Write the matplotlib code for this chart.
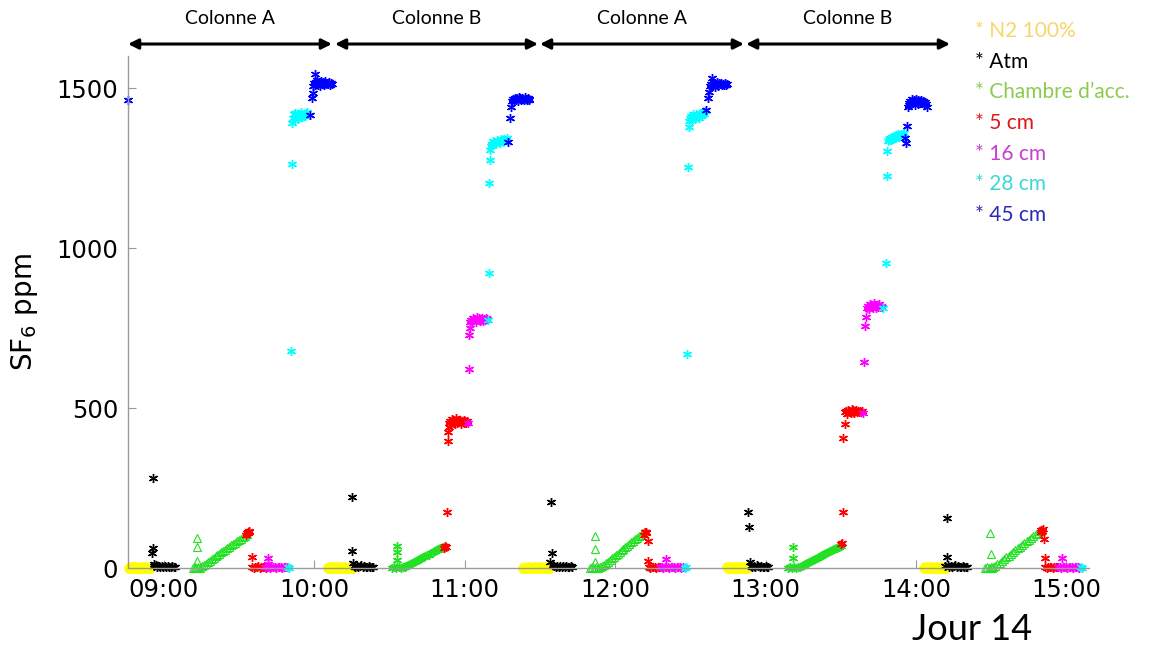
import matplotlib
matplotlib.use("Agg")
import matplotlib.pyplot as plt
from matplotlib.ticker import FixedLocator, FixedFormatter

# ---------------- data (time in decimal hours, SF6 in ppm) ----------------
n2_t = [8.765, 8.772, 8.780, 8.788, 8.795, 8.803, 8.810, 8.818, 8.825, 8.833, 8.840,
        8.848, 8.855, 8.863, 8.870, 8.878, 8.885, 8.893, 8.900, 8.906,
        10.088, 10.096, 10.105, 10.113, 10.122, 10.130, 10.139, 10.147, 10.156, 10.164,
        10.173, 10.181, 10.190, 10.198, 10.207, 10.215, 10.224, 10.232, 10.241, 10.248,
        11.390, 11.400, 11.410, 11.420, 11.430, 11.440, 11.450, 11.460, 11.470, 11.480,
        11.490, 11.500, 11.510, 11.520, 11.530, 11.539, 11.548, 11.556, 11.563,
        12.746, 12.753, 12.760, 12.768, 12.775, 12.783, 12.790, 12.798, 12.805, 12.813,
        12.820, 12.828, 12.835, 12.843, 12.850, 12.857, 12.863, 12.869, 12.875,
        14.050, 14.058, 14.066, 14.074, 14.082, 14.090, 14.098, 14.106, 14.114, 14.122,
        14.130, 14.138, 14.146, 14.154, 14.162, 14.170, 14.178, 14.185, 14.190]
n2_v = [1, 0, 2, 1, 0, 1, 2, 0, 1, 1, 0, 2, 1, 0, 1, 2, 0, 1, 1, 0,
        0, 1, 2, 1, 0, 2, 1, 0, 1, 2, 1, 0, 1, 2, 0, 1, 1, 0, 2, 1,
        1, 0, 1, 2, 0, 1, 1, 0, 2, 1, 0, 2, 1, 0, 1, 2, 0, 1, 1,
        2, 1, 0, 1, 2, 0, 1, 1, 0, 2, 1, 0, 2, 1, 0, 1, 1, 2, 0,
        1, 2, 0, 1, 1, 0, 2, 1, 0, 1, 2, 0, 1, 1, 0, 2, 1, 0, 1]

atm_t = [8.920, 8.927, 8.929, 8.931, 8.936, 8.945, 8.955, 8.965, 8.975, 8.985, 8.995,
         9.005, 9.015, 9.025, 9.035, 9.045, 9.055, 9.065, 9.073,
         10.250, 10.252, 10.257, 10.262, 10.272, 10.282, 10.292, 10.302, 10.312, 10.322,
         10.332, 10.342, 10.352, 10.362, 10.372, 10.382, 10.390,
         11.566, 11.573, 11.580, 11.585, 11.595, 11.605, 11.615, 11.625, 11.635, 11.645,
         11.655, 11.665, 11.675, 11.685, 11.695, 11.705, 11.713,
         12.883, 12.890, 12.896, 12.901, 12.910, 12.920, 12.930, 12.940, 12.950, 12.960,
         12.970, 12.980, 12.990, 13.000, 13.010, 13.016,
         14.193, 14.206, 14.207, 14.212, 14.222, 14.232, 14.242, 14.252, 14.262, 14.272,
         14.282, 14.292, 14.302, 14.312, 14.322, 14.332, 14.339]
atm_v = [47, 281, 62, 14, 5, 8, 3, 6, 4, 7, 2, 5, 3, 6, 4, 2, 5, 3, 4,
         222, 53, 16, 6, 4, 7, 3, 5, 8, 2, 6, 4, 3, 5, 2, 4, 3,
         19, 206, 47, 8, 5, 3, 6, 4, 7, 2, 5, 3, 6, 4, 2, 5, 3,
         175, 128, 19, 7, 4, 6, 3, 8, 5, 2, 6, 4, 3, 5, 2, 4,
         6, 156, 34, 9, 4, 7, 3, 5, 8, 2, 6, 4, 3, 5, 2, 4, 3]

# accumulation chamber, asterisks (Colonne B periods)
cha_t = [10.516, 10.530, 10.545, 10.549, 10.550, 10.551, 10.560, 10.575, 10.589,
         10.600, 10.612, 10.625, 10.637, 10.650, 10.662, 10.675, 10.687, 10.700, 10.712,
         10.725, 10.737, 10.750, 10.762, 10.775, 10.787, 10.800, 10.812, 10.825, 10.837,
         10.850, 10.858,
         13.149, 13.160, 13.175, 13.182, 13.183, 13.190, 13.205, 13.215,
         13.227, 13.240, 13.252, 13.265, 13.277, 13.290, 13.302, 13.315, 13.327, 13.340,
         13.352, 13.365, 13.377, 13.390, 13.402, 13.415, 13.427, 13.440, 13.452, 13.465,
         13.477, 13.490, 13.498]
cha_v = [0, 2, 1, 69, 50, 25, 3, 1, 2,
         4, 6, 9, 12, 15, 18, 21, 25, 27, 30,
         33, 37, 40, 42, 46, 49, 52, 56, 58, 61,
         64, 67,
         0, 2, 1, 66, 31, 3, 1, 2,
         4, 7, 10, 13, 16, 20, 22, 25, 29, 31,
         34, 37, 41, 43, 46, 50, 52, 55, 59, 61,
         64, 67, 70]

# accumulation chamber, triangles (Colonne A periods)
cht_t = [9.193, 9.205, 9.215, 9.219, 9.220, 9.221, 9.228, 9.239,
         9.252, 9.265, 9.278, 9.291, 9.304, 9.317, 9.330, 9.343, 9.356, 9.369,
         9.382, 9.395, 9.408, 9.421, 9.434, 9.447, 9.460, 9.473, 9.486, 9.499,
         9.512, 9.525, 9.538, 9.550,
         11.832, 11.845, 11.858, 11.866, 11.867, 11.868, 11.870, 11.885, 11.899,
         11.912, 11.925, 11.938, 11.951, 11.964, 11.977, 11.990, 12.003, 12.016, 12.029,
         12.042, 12.055, 12.068, 12.081, 12.094, 12.107, 12.120, 12.133, 12.146, 12.159,
         12.172, 12.185,
         14.459, 14.470, 14.482, 14.495, 14.499, 14.500, 14.505, 14.512,
         14.525, 14.540, 14.555, 14.570, 14.585, 14.600, 14.615, 14.630, 14.645, 14.660,
         14.675, 14.690, 14.705, 14.720, 14.735, 14.750, 14.765, 14.780, 14.795, 14.810,
         14.825, 14.838]
cht_v = [0, 2, 1, 94, 66, 22, 3, 1,
         5, 9, 14, 18, 22, 27, 31, 36, 40, 44,
         49, 53, 57, 62, 66, 71, 75, 79, 84, 88,
         92, 96, 101, 105,
         0, 2, 1, 100, 59, 19, 3, 1, 2,
         6, 10, 15, 20, 25, 30, 35, 40, 45, 50,
         55, 60, 65, 70, 75, 80, 85, 90, 95, 100,
         104, 109,
         0, 2, 1, 109, 44, 3, 1, 2,
         6, 11, 17, 22, 28, 33, 39, 44, 50, 55,
         61, 66, 72, 77, 83, 88, 94, 99, 105, 110,
         115, 119]

c5_t = [9.548, 9.553, 9.557, 9.560, 9.564, 9.568, 9.585,
        9.588, 9.598, 9.608, 9.618, 9.628, 9.638, 9.648, 9.658, 9.668, 9.678, 9.685,
        10.862, 10.868, 10.875, 10.882, 10.888, 10.889, 10.893,
        10.897, 10.903, 10.908, 10.914, 10.920, 10.926, 10.932, 10.938, 10.944, 10.950,
        10.956, 10.962, 10.968, 10.974, 10.980, 10.986, 10.992, 10.998, 11.004, 11.010, 11.016,
        12.190, 12.195, 12.199, 12.203, 12.207, 12.218, 12.219,
        12.222, 12.232, 12.242, 12.252, 12.262, 12.272, 12.282, 12.292, 12.298,
        13.502, 13.508, 13.514, 13.515, 13.527,
        13.530, 13.536, 13.542, 13.548, 13.554, 13.560, 13.566, 13.572, 13.578, 13.584,
        13.590, 13.596, 13.602, 13.608, 13.614, 13.620, 13.626, 13.632, 13.638,
        14.828, 14.833, 14.838, 14.842, 14.851, 14.858,
        14.860, 14.870, 14.880, 14.890, 14.900, 14.910, 14.920, 14.930, 14.940]
c5_v = [104, 110, 113, 108, 115, 111, 34,
        3, 1, 4, 2, 5, 1, 3, 2, 4, 1, 2,
        63, 68, 66, 175, 397, 425, 440,
        452, 460, 448, 466, 455, 462, 450, 458, 469, 453,
        461, 455, 464, 451, 459, 456, 463, 452, 458, 454, 460,
        104, 111, 114, 108, 112, 84, 22,
        3, 1, 4, 2, 3, 1, 4, 2, 3,
        74, 78, 175, 406, 450,
        486, 492, 482, 495, 488, 491, 484, 496, 489, 493,
        485, 490, 494, 487, 491, 486, 492, 489, 490,
        114, 119, 116, 122, 90, 31,
        3, 1, 4, 2, 3, 1, 4, 2, 3]

c16_t = [9.675, 9.685, 9.691, 9.692, 9.695, 9.705, 9.715, 9.725, 9.735, 9.745, 9.755,
         9.765, 9.775, 9.785, 9.795, 9.805, 9.815,
         11.021, 11.028, 11.029, 11.035,
         11.038, 11.044, 11.050, 11.056, 11.062, 11.068, 11.074, 11.080, 11.086, 11.092,
         11.098, 11.104, 11.110, 11.116, 11.122, 11.128, 11.134, 11.140, 11.146,
         12.300, 12.310, 12.320, 12.330, 12.338, 12.340, 12.350, 12.360, 12.370, 12.380,
         12.390, 12.400, 12.410, 12.420, 12.430, 12.440, 12.450,
         13.648, 13.654, 13.661, 13.668,
         13.676, 13.682, 13.688, 13.694, 13.700, 13.706, 13.712, 13.718, 13.724, 13.730,
         13.736, 13.742, 13.748, 13.754, 13.760, 13.766, 13.772,
         14.946, 14.956, 14.966, 14.971, 14.976, 14.986, 14.996, 15.006, 15.016, 15.026,
         15.036, 15.046, 15.056, 15.066, 15.076, 15.086]
c16_v = [2, 4, 31, 12, 3, 1, 4, 2, 3, 1, 4,
         2, 3, 1, 3, 2, 3,
         453, 622, 728, 750,
         768, 776, 771, 782, 774, 779, 770, 784, 775, 780,
         772, 778, 776, 781, 773, 779, 775, 780, 777,
         2, 4, 1, 3, 28, 2, 4, 1, 3, 2,
         4, 1, 3, 2, 3, 1, 2,
         484, 644, 756, 784,
         812, 820, 808, 825, 816, 822, 811, 827, 818, 823,
         814, 820, 817, 824, 815, 819, 816,
         2, 4, 1, 31, 3, 2, 4, 1, 3, 2,
         4, 1, 3, 2, 3, 1]

c28_t = [9.824, 9.830, 9.844, 9.851, 9.852,
         9.856, 9.862, 9.868, 9.874, 9.880, 9.886, 9.892, 9.898, 9.904, 9.910,
         9.916, 9.922, 9.928, 9.934, 9.940, 9.946, 9.951,
         11.154, 11.161, 11.162, 11.168, 11.169,
         11.172, 11.178, 11.184, 11.190, 11.196, 11.202, 11.208, 11.214, 11.220, 11.226,
         11.232, 11.238, 11.244, 11.250, 11.256, 11.262, 11.268, 11.274, 11.280,
         12.464, 12.470, 12.477, 12.484, 12.491,
         12.490, 12.496, 12.502, 12.508, 12.514, 12.520, 12.526, 12.532, 12.538, 12.544,
         12.550, 12.556, 12.562, 12.568, 12.574, 12.580, 12.586, 12.592, 12.597,
         13.781, 13.801, 13.807, 13.808,
         13.812, 13.818, 13.824, 13.830, 13.836, 13.842, 13.848, 13.854, 13.860, 13.866,
         13.872, 13.878, 13.884, 13.890, 13.896, 13.902, 13.908, 13.914, 13.920,
         15.098, 15.104]
c28_v = [2, 1, 678, 1262, 1390,
         1405, 1418, 1400, 1422, 1410, 1415, 1403, 1420, 1412, 1424,
         1408, 1416, 1411, 1419, 1413, 1421, 1425,
         775, 922, 1203, 1275, 1306,
         1318, 1326, 1322, 1335, 1328, 1332, 1325, 1338, 1330, 1335,
         1327, 1340, 1333, 1337, 1331, 1342, 1336, 1339, 1345,
         1, 2, 669, 1253, 1378,
         1398, 1405, 1412, 1400, 1418, 1408, 1414, 1403, 1420, 1410,
         1416, 1406, 1422, 1412, 1418, 1415, 1424, 1420, 1428,
         812, 953, 1225, 1303,
         1333, 1340, 1336, 1345, 1338, 1348, 1342, 1350, 1344, 1352,
         1346, 1355, 1348, 1353, 1350, 1357, 1352, 1355, 1358,
         2, 1]

c45_t = [8.761,
         9.971, 9.984, 9.991, 10.004,
         9.990, 9.996, 10.002, 10.008, 10.014, 10.020, 10.026, 10.032, 10.038, 10.044,
         10.050, 10.056, 10.062, 10.068, 10.074, 10.080, 10.086, 10.092, 10.098, 10.104,
         10.110, 10.116,
         11.287, 11.301, 11.307,
         11.316, 11.322, 11.328, 11.334, 11.340, 11.346, 11.352, 11.358, 11.364, 11.370,
         11.376, 11.382, 11.388, 11.394, 11.400, 11.406, 11.412, 11.418, 11.424, 11.430,
         12.604, 12.617, 12.624, 12.644,
         12.632, 12.638, 12.650, 12.656, 12.662, 12.668, 12.674, 12.680, 12.686, 12.692,
         12.698, 12.704, 12.710, 12.716, 12.722, 12.728, 12.734, 12.740,
         13.927, 13.934, 13.940,
         13.944, 13.950, 13.956, 13.962, 13.968, 13.974, 13.980, 13.986, 13.992, 13.998,
         14.004, 14.010, 14.016, 14.022, 14.028, 14.034, 14.040, 14.046, 14.052, 14.058,
         14.064, 14.070]
c45_v = [1462,
         1416, 1469, 1484, 1544,
         1505, 1515, 1508, 1520, 1512, 1524, 1510, 1518, 1506, 1522,
         1514, 1519, 1508, 1516, 1523, 1511, 1517, 1513, 1520, 1509,
         1516, 1512,
         1331, 1406, 1441,
         1458, 1466, 1461, 1470, 1463, 1468, 1459, 1472, 1465, 1469,
         1462, 1470, 1466, 1463, 1471, 1467, 1464, 1469, 1466, 1462,
         1431, 1469, 1488, 1531,
         1506, 1512, 1508, 1516, 1504, 1514, 1510, 1518, 1507, 1515,
         1511, 1517, 1509, 1513, 1508, 1515, 1510, 1512,
         1344, 1328, 1381,
         1440, 1452, 1446, 1460, 1450, 1465, 1455, 1462, 1448, 1466,
         1457, 1463, 1451, 1460, 1455, 1464, 1452, 1459, 1447, 1455,
         1450, 1442]

tick_hours = [9, 10, 11, 12, 13, 14, 15]
tick_labels = ["09:00", "10:00", "11:00", "12:00", "13:00", "14:00", "15:00"]

period_start = [8.761, 10.137, 11.500, 12.870]
period_end = [10.117, 11.487, 12.856, 14.226]
period_names = ["Colonne A", "Colonne B", "Colonne A", "Colonne B"]

legend_names = ["* N2 100%", "* Atm", "* Chambre d\u2019acc.", "* 5 cm", "* 16 cm", "* 28 cm", "* 45 cm"]
legend_colors = ["#F7D66A", "#000000", "#8CCB50", "#E01515", "#C63FD0", "#3FD6D6", "#2A2AB5"]

# ---------------- figure ----------------
fig = plt.figure(figsize=(11.6, 6.5), dpi=100)
ax = fig.add_axes([128 / 1160, 82 / 650, 961 / 1160, 512 / 650])

ast = (6, 2, 0)
ms = 6.5
mew = 1.0
kw = dict(linestyle="none", clip_on=False)
ax.plot(n2_t, n2_v, marker=ast, ms=7, mew=3.5, color="#FFFF00", **kw)
ax.plot(atm_t, atm_v, marker=ast, ms=ms, mew=mew, color="#000000", **kw)
ax.plot(cht_t, cht_v, marker="^", ms=6, mew=0.8, mfc="none", mec="#22E022", **kw)
ax.plot(cha_t, cha_v, marker=ast, ms=ms, mew=mew, color="#22E022", **kw)
ax.plot(c5_t, c5_v, marker=ast, ms=ms, mew=mew, color="#FF0000", **kw)
ax.plot(c16_t, c16_v, marker=ast, ms=ms, mew=mew, color="#FF00FF", **kw)
ax.plot(c28_t, c28_v, marker=ast, ms=ms, mew=mew, color="#00FFFF", **kw)
ax.plot(c45_t, c45_v, marker=ast, ms=ms, mew=mew, color="#0000FF", **kw)

ax.set_xlim(8.761, 15.15)
ax.set_ylim(0, 1600)
ax.xaxis.set_major_locator(FixedLocator(tick_hours))
ax.xaxis.set_major_formatter(FixedFormatter(tick_labels))
ax.set_yticks([0, 500, 1000, 1500])
for s in ["top", "right"]:
    ax.spines[s].set_visible(False)
for s in ["left", "bottom"]:
    ax.spines[s].set_color("#9a9a9a")
    ax.spines[s].set_linewidth(1.0)
ax.tick_params(direction="in", length=6, width=0.8, color="#9a9a9a",
               labelsize=17.5, pad=7)
ax.set_ylabel("SF$_6$ ppm", fontsize=20)
ax.yaxis.set_label_coords(-0.092, 0.5)

# period arrows
trans = ax.get_xaxis_transform()
for s, e, name in zip(period_start, period_end, period_names):
    ax.annotate("", xy=(e, 1.0234), xytext=(s, 1.0234), xycoords=trans, textcoords=trans,
                arrowprops=dict(arrowstyle="<|-|>,head_length=0.6,head_width=0.3",
                                color="black", lw=2.2, shrinkA=0, shrinkB=0),
                annotation_clip=False)
    ax.text((s + e) / 2, 1.074, name, transform=trans, ha="center", va="center",
            fontsize=14, family="Lato", clip_on=False)

# right-hand legend text
for i, (name, col) in enumerate(zip(legend_names, legend_colors)):
    fig.text(975 / 1160, 1 - (31 + 30.7 * i) / 650, name, color=col,
             fontsize=15, family="Lato", ha="left", va="center")

fig.text(972 / 1160, 1 - 630 / 650, "Jour 14", fontsize=26, family="Lato",
         ha="center", va="center")

fig.savefig("out.png", dpi=100)
